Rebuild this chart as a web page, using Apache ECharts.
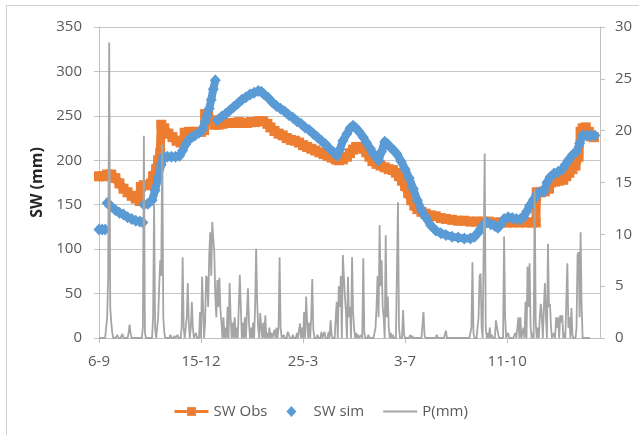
<!DOCTYPE html>
<html>
<head>
<meta charset="utf-8">
<script src="https://cdn.jsdelivr.net/npm/echarts@6/dist/echarts.min.js"></script>
<style>
html,body{margin:0;padding:0;background:#fff;}
#chart{width:639px;height:435px;}
</style>
</head>
<body>
<div id="chart"></div>
<script>
// X axis tick labels (day index from 6-9 → label)
const xTickDays = [0, 100, 200, 300, 400];
const xLabels = ['6-9', '15-12', '25-3', '3-7', '11-10'];
const lastAxisDay = 491;

// SW Obs (mm) — day index and value
const obsDay = [0,4,8,12,16,20,24,28,32,36,40,41,44,48,51,53,56,58,60,61,64,68,72,76,80,83,84,88,92,96,100,103,104,107,110,113,117,121,125,129,133,137,141,145,149,153,157,161,165,168,172,176,180,184,188,192,196,200,204,208,212,216,220,224,228,232,235,239,243,246,249,252,256,259,262,265,268,272,276,280,284,288,291,294,297,300,303,306,309,312,316,320,325,330,335,340,346,352,358,364,370,376,382,388,394,400,406,412,418,424,428,429,433,437,441,443,447,451,455,458,461,464,467,470,472,474,477,480,482,485];
const obsSW = [182,182,184,184,180,174,168,164,160,157,154,170,172,172,174,182,190,200,208,240,236,230,226,222,220,222,231,232,232,232,232,234,252,250,245,240,240,241,242,242,242,243,242,242,243,243,244,244,241,237,233,230,228,225,223,222,220,217,215,213,211,209,207,205,203,201,200,201,204,208,212,215,215,213,209,204,199,196,194,192,190,189,186,182,177,171,163,155,149,145,142,140,138,137,135,134,133,132,132,131,131,131,131,130,130,130,130,130,130,130,130,164,164,165,168,175,176,177,178,182,186,190,194,204,232,236,237,232,227,226];

// SW sim (mm)
const simDay = [0,3,6,8,12,16,20,24,28,32,36,40,43,44,48,52,55,58,61,63,67,71,75,79,82,85,88,91,94,98,101,104,106,108,110,112,114,116,120,124,128,132,136,140,144,148,152,156,159,162,166,170,174,178,182,186,190,194,198,202,206,210,214,218,222,226,230,233,236,239,243,246,249,252,255,259,262,266,269,272,274,277,280,283,286,289,292,296,300,304,308,312,316,320,325,330,335,340,346,352,358,364,368,371,374,377,380,384,388,391,394,397,401,405,409,413,416,419,422,426,429,432,436,439,442,446,450,454,457,460,464,468,471,474,478,482,486];
const simSW = [122,122,122,152,148,144,141,139,136,134,132,131,130,150,151,155,166,181,195,204,204,204,204,205,211,218,223,226,228,231,234,243,250,258,268,280,290,245,249,252,256,260,264,268,271,274,276,278,277,274,270,265,261,258,255,251,248,244,241,237,234,230,226,222,218,213,209,205,212,222,230,236,239,236,232,226,220,213,207,203,200,210,221,218,214,211,207,199,190,180,168,155,144,136,127,121,118,116,114,113,112,112,114,118,123,128,130,128,126,124,128,134,136,135,134,134,136,142,149,156,162,164,165,175,181,185,187,190,195,200,206,210,219,228,228,228,228];
// days after which the simulated record has a gap (no continuity)
const simGapAfter = [6, 43, 114];

// P (mm) — rainy days (day index, value); all other days are 0
const pDay = [8,9,10,11,12,13,18,23,29,30,31,43,44,45,53,54,55,58,59,60,61,62,63,64,70,74,77,81,82,83,86,87,88,90,91,92,95,99,101,102,104,105,106,107,108,109,110,111,112,113,114,115,116,117,118,119,120,122,124,126,128,129,131,133,135,137,138,139,141,143,145,146,147,149,151,153,154,155,156,158,159,161,163,165,167,169,172,174,176,177,178,181,185,186,190,194,197,199,201,203,204,206,208,209,210,214,218,221,225,227,228,232,233,235,236,237,239,240,241,242,244,245,246,248,249,250,252,254,257,259,260,264,270,271,272,273,274,275,276,277,278,279,281,282,283,284,286,288,293,294,298,299,305,307,318,319,331,340,365,366,367,372,373,374,375,378,379,381,383,385,389,390,391,397,398,401,408,411,413,416,418,420,421,422,423,425,427,428,430,432,433,434,436,437,438,440,441,442,443,446,448,449,450,452,453,454,456,459,460,461,463,464,468,469,470,471,472,473];
const pVal = [2,6,28.5,3,1.5,0.5,0.3,0.4,0.5,1.3,0.4,1,19.5,0.5,2,13,1,2,5,7.5,6,18.7,2,0.5,0.3,0.2,0.3,1,7.8,1,2,5.3,1.5,1,3.5,1,0.5,2.5,5.9,3,1.5,6,5.8,3,8,10.2,6,11.2,9.6,8.2,4,2,5.6,3,5.8,2.7,1.5,2,1,3,5.3,2,1.5,2,1,3,6.1,3,1.5,2,2.5,4.8,1.5,1,1.5,3,8.6,3.5,1,2.4,1,1.5,2.2,0.5,1,0.5,0.8,1,1,7.8,1,0.3,0.6,0.3,0.3,0.5,1.4,1,2.5,4,1.5,1.5,2,5.7,0.9,0.3,0.6,0.6,0.6,1.7,0.3,2,3.5,5,3,6,8,5.9,4,2.5,5.9,2,3,7.8,2.5,1,0.5,0.3,0.3,7.7,0.5,0.3,0.5,1,3,6,2,10.9,5,7.5,3,2,9.9,2,4,1,0.5,0.3,13.1,1,2.7,0.3,0.3,0.2,2.5,0.3,0.3,0.7,1,7.3,0.5,2,6,6.2,1,17.8,1,0.5,1,0.3,1.7,1.7,0.5,9.8,2,0.5,0.5,2,2,1,3.5,6.9,3,7.2,1,0.5,14.3,1.5,1,2,3.3,2,3,5.3,2,9.1,3,3.3,1,0.5,2,1,2,2.2,1.5,2.2,0.5,7.2,1,2,2.9,0.3,1,8,8.3,2,10.2,3];
const pLastDay = 481;

const obsData = obsDay.map((d, i) => [d, obsSW[i]]);
const simData = simDay.map((d, i) => [d, simSW[i]]);
const simBand = [];
simDay.forEach((d, i) => {
  simBand.push([d, simSW[i]]);
  if (simGapAfter.indexOf(d) >= 0) simBand.push('-');
});
const pMap = {};
pDay.forEach((d, i) => { pMap[d] = pVal[i]; });
const pData = [];
for (let d = 0; d <= pLastDay; d++) pData.push([d, pMap[d] !== undefined ? pMap[d] : 0]);

const FONT = 'Open Sans';
const axisGray = '#BFBFBF';
const gridGray = '#C6C6C6';
const txt = '#595959';
const ORANGE = '#ED7D31', BLUE = '#5B9BD5', GRAY = '#A5A5A5';

const chart = echarts.init(document.getElementById('chart'), null, {renderer: 'canvas'});
chart.setOption({
  animation: false,
  backgroundColor: '#fff',
  textStyle: {fontFamily: FONT},
  graphic: [{
    type: 'rect', silent: true, z: -10,
    shape: {x: 6.5, y: 5.5, width: 800, height: 600},
    style: {fill: 'none', stroke: '#D0D0D0', lineWidth: 1}
  }],
  grid: {left: 99, right: 39, top: 27, bottom: 97, containLabel: false},
  legend: {
    left: 168, top: 399,
    itemWidth: 34, itemHeight: 11, itemGap: 19,
    symbolKeepAspect: true,
    textStyle: {fontFamily: FONT, fontSize: 15, color: txt},
    data: [
      {name: 'SW Obs', lineStyle: {width: 3, color: ORANGE}},
      {name: 'SW sim', icon: 'path://M0,-5L4.5,0L0,5L-4.5,0Z', itemStyle: {color: BLUE}},
      {name: 'P(mm)', icon: 'path://M0,0L34,0L34,2L0,2Z', itemStyle: {color: GRAY}}
    ]
  },
  xAxis: {
    type: 'value', min: 0, max: lastAxisDay, interval: 100,
    splitLine: {show: false},
    axisLine: {show: true, lineStyle: {color: axisGray, width: 1}},
    axisTick: {show: true, length: 5, lineStyle: {color: axisGray}, customValues: xTickDays},
    axisLabel: {
      margin: 16, fontFamily: FONT, fontSize: 15, color: txt,
      customValues: xTickDays,
      formatter: function (v) { const i = xTickDays.indexOf(v); return i >= 0 ? xLabels[i] : ''; }
    }
  },
  yAxis: [{
    type: 'value', position: 'left', min: 0, max: 350, interval: 50,
    name: 'SW (mm)', nameLocation: 'middle', nameGap: 54, nameRotate: 90,
    nameTextStyle: {fontFamily: FONT, fontSize: 16, fontWeight: 'bold', color: '#262626'},
    axisLine: {show: true, lineStyle: {color: axisGray}},
    axisTick: {show: true, length: 5, lineStyle: {color: gridGray}},
    splitLine: {show: true, lineStyle: {color: gridGray, width: 1}},
    axisLabel: {margin: 17, fontFamily: FONT, fontSize: 15, color: txt}
  }, {
    type: 'value', position: 'right', min: 0, max: 30, interval: 5,
    axisLine: {show: true, lineStyle: {color: axisGray}},
    axisTick: {show: true, length: 5, lineStyle: {color: axisGray}},
    splitLine: {show: false},
    axisLabel: {margin: 15, fontFamily: FONT, fontSize: 15, color: txt}
  }],
  series: [{
    name: 'SW Obs', type: 'line', yAxisIndex: 0,
    data: obsData,
    symbol: 'rect', symbolSize: 10, showSymbol: true, showAllSymbol: true,
    lineStyle: {color: ORANGE, width: 9, join: 'round', cap: 'butt'},
    itemStyle: {color: ORANGE},
    z: 2
  }, {
    name: 'SW sim band', type: 'line', yAxisIndex: 0,
    data: simBand,
    symbol: 'none', showSymbol: false, connectNulls: false,
    lineStyle: {color: BLUE, width: 8, join: 'round'},
    itemStyle: {color: BLUE},
    silent: true,
    z: 3
  }, {
    name: 'SW sim', type: 'scatter', yAxisIndex: 0,
    data: simData,
    symbol: 'diamond', symbolSize: [11, 12],
    itemStyle: {color: BLUE, opacity: 1},
    z: 3
  }, {
    name: 'P(mm)', type: 'line', yAxisIndex: 1,
    data: pData,
    symbol: 'none', showSymbol: false,
    lineStyle: {color: GRAY, width: 1.8},
    itemStyle: {color: GRAY},
    z: 4
  }]
});
</script>
</body>
</html>
